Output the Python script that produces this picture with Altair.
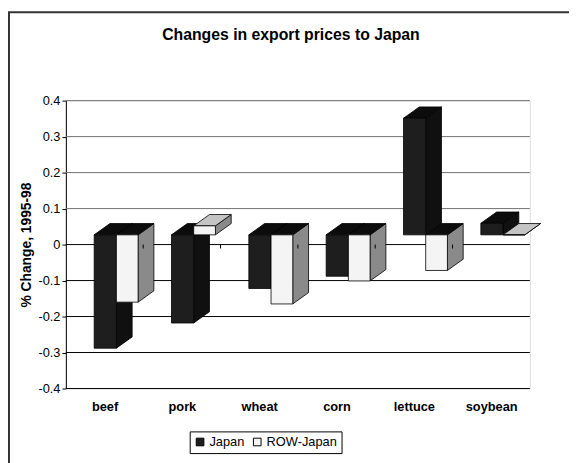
import altair as alt
import pandas as pd

# ---- data ----
categories = ["beef", "pork", "wheat", "corn", "lettuce", "soybean"]
series = ["Japan", "ROW-Japan"]
# change of each bar, measured from the bars' common base
japan = [-0.315, -0.245, -0.149, -0.115, 0.324, 0.032]
row_japan = [-0.187, 0.025, -0.192, -0.128, -0.099, 0.0]
y_ticks = [-0.4, -0.3, -0.2, -0.1, 0, 0.1, 0.2, 0.3, 0.4]
title_text = "Changes in export prices to Japan"

# ---- pseudo-3D styling ----
BASE = 0.027          # where the bars' front faces start on the value axis
DX, DY = 0.204, 0.0315  # depth shift (x in category units, y in value units)
OFFS = {"Japan": (-0.134, 0.153), "ROW-Japan": (0.153, 0.434)}
FRONT = {"Japan": "#1e1e1e", "ROW-Japan": "#f4f4f4"}
SIDE = {"Japan": "#101010", "ROW-Japan": "#8a8a8a"}
FONT = "Liberation Sans"

front_rows, side_rows, top_rows = [], [], []
for s, vals in zip(series, [japan, row_japan]):
    for i, (c, v) in enumerate(zip(categories, vals)):
        xl = i + 0.5 + OFFS[s][0]
        xr = i + 0.5 + OFFS[s][1]
        end = BASE + v
        lo, hi = min(BASE, end), max(BASE, end)
        bid = f"{s}-{c}"
        front_rows.append(dict(series=s, cat=c, xl=xl, xr=xr, y0=BASE, y1=end))
        side_rows.append(dict(id=bid, series=s, x=xr, lo=lo, hi=hi, fill=SIDE[s]))
        side_rows.append(dict(id=bid, series=s, x=xr + DX, lo=lo + DY, hi=hi + DY, fill=SIDE[s]))
        if s == "Japan":
            tf = "#0c0c0c"
        else:
            tf = "#c4c4c4" if v >= 0 else "#0c0c0c"
        top_rows.append(dict(id=bid, series=s, y=hi, xl=xl, xr=xr, fill=tf))
        top_rows.append(dict(id=bid, series=s, y=hi + DY, xl=xl + DX, xr=xr + DX, fill=tf))

front_df = pd.DataFrame(front_rows)
side_df = pd.DataFrame(side_rows)
top_df = pd.DataFrame(top_rows)
grid_df = pd.DataFrame({"v": y_ticks,
                        "c": ["#000000" if t <= 0 else "#707070" for t in y_ticks]})
tick_df = pd.DataFrame({"b": list(range(1, len(categories))), "y0": 0.0, "y1": -0.011})

XS = alt.Scale(domain=[0, len(categories)], nice=False, zero=False)
YS = alt.Scale(domain=[-0.4, 0.4], nice=False, zero=False)
cat_expr = "[" + ",".join(f"'{c}'" for c in categories) + "][floor(datum.value)]"
XAX = alt.Axis(values=[i + 0.5 for i in range(len(categories))], labelExpr=cat_expr,
               ticks=False, domain=False, grid=False, title=None,
               labelFont=FONT, labelFontSize=13, labelFontWeight="bold",
               labelColor="black", labelPadding=12)
YAX = alt.Axis(values=y_ticks, labelExpr="toString(datum.value)", grid=False,
               domain=True, domainColor="black", tickColor="black", tickSize=4,
               labelFont=FONT, labelFontSize=13, labelColor="black", labelPadding=2,
               title="% Change, 1995-98", titleFont=FONT, titleFontSize=14,
               titleFontWeight="bold", titleColor="black", titleX=-40, titleY=146,
               titleBaseline="middle")


def X(f):
    return alt.X(f, type="quantitative", scale=XS, axis=XAX, stack=None)


def Y(f):
    return alt.Y(f, type="quantitative", scale=YS, axis=YAX, stack=None)


grid = alt.Chart(grid_df).mark_rule(strokeWidth=1).encode(
    y=Y("v"), color=alt.Color("c:N", scale=None))

layers = [grid]
for s in series:
    layers.append(
        alt.Chart(side_df[side_df.series == s]).mark_area(
            orient="vertical", stroke="black", strokeWidth=0.8, interpolate="linear"
        ).encode(x=X("x"), y=Y("lo"), y2="hi", detail="id:N",
                 fill=alt.Fill("fill:N", scale=None)))
    layers.append(
        alt.Chart(top_df[top_df.series == s]).mark_area(
            orient="horizontal", stroke="black", strokeWidth=0.8, interpolate="linear"
        ).encode(y=Y("y"), x=X("xl"), x2="xr", detail="id:N",
                 fill=alt.Fill("fill:N", scale=None)))

front = alt.Chart(front_df).mark_rect(stroke="black", strokeWidth=0.8).encode(
    x=X("xl"), x2="xr", y=Y("y0"), y2="y1",
    color=alt.Color("series:N",
                    scale=alt.Scale(domain=series, range=[FRONT[s] for s in series]),
                    legend=alt.Legend(orient="none", legendX=125.6, legendY=335.5,
                                      direction="horizontal", title=None,
                                      symbolType="square", symbolSize=60,
                                      symbolStrokeColor="black", symbolStrokeWidth=1,
                                      labelFont=FONT, labelFontSize=13,
                                      labelColor="black", labelOffset=3,
                                      columnPadding=6, padding=4,
                                      strokeColor="black", fillColor="white")))
layers.append(front)

ticks = alt.Chart(tick_df).mark_rule(color="black", strokeWidth=1).encode(
    x=X("b"), y=Y("y0"), y2="y1")
layers.append(ticks)

frame = alt.Chart(pd.DataFrame({"a": [0]})).mark_rect(
    filled=False, stroke="#333333", strokeWidth=2).encode(
    x=alt.value(-57.7), x2=alt.value(700), y=alt.value(-89.7), y2=alt.value(600))
layers.append(frame)

title = alt.Chart(pd.DataFrame({"t": [title_text]})).mark_text(
    font=FONT, fontSize=16, fontWeight="bold", color="black",
    align="center", baseline="middle").encode(
    text="t:N", x=alt.value(228.3), y=alt.value(-66))
layers.append(title)

chart = alt.layer(*layers).properties(
    width=470.6, height=292,
    padding={"left": 58.7, "top": 90.7, "right": 39.7, "bottom": 72.3},
    autosize=alt.AutoSizeParams(type="none"),
).configure_view(stroke="black", strokeWidth=1).configure(background="white")

chart.save("out.html", embed_options={"renderer": "svg", "actions": False})
